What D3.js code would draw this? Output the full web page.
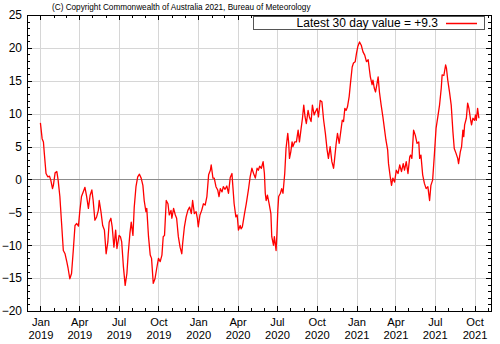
<!DOCTYPE html>
<html><head><meta charset="utf-8">
<script src="https://cdn.jsdelivr.net/npm/d3@7"></script>
<style>
body{margin:0;background:#fff}
svg{display:block}
text{font-family:"Liberation Sans",Arial,Helvetica,sans-serif;fill:#000}
</style>
</head><body>
<svg id="chart" width="500" height="344"></svg>
<script>
// ---- data ----
const dates = [
"2019-01-01","2019-01-05","2019-01-08","2019-01-10","2019-01-14","2019-01-18","2019-01-22","2019-01-25","2019-01-29","2019-01-31",
"2019-02-04","2019-02-08","2019-02-11","2019-02-15","2019-02-19","2019-02-23","2019-02-27","2019-03-03","2019-03-06","2019-03-10",
"2019-03-14","2019-03-18","2019-03-22","2019-03-26","2019-03-30","2019-04-02","2019-04-06","2019-04-10","2019-04-14","2019-04-18",
"2019-04-22","2019-04-26","2019-04-30","2019-05-03","2019-05-07","2019-05-11","2019-05-15","2019-05-17","2019-05-21","2019-05-25",
"2019-05-29","2019-06-02","2019-06-06","2019-06-09","2019-06-13","2019-06-16","2019-06-20","2019-06-24","2019-06-27","2019-07-02",
"2019-07-05","2019-07-08","2019-07-12","2019-07-16","2019-07-20","2019-07-23","2019-07-27","2019-07-30","2019-08-03","2019-08-06",
"2019-08-10","2019-08-14","2019-08-18","2019-08-22","2019-08-26","2019-08-29","2019-09-02","2019-09-04","2019-09-08","2019-09-12",
"2019-09-15","2019-09-19","2019-09-23","2019-09-27","2019-10-01","2019-10-05","2019-10-09","2019-10-12","2019-10-15","2019-10-19",
"2019-10-23","2019-10-26","2019-10-30","2019-11-01","2019-11-05","2019-11-09","2019-11-12","2019-11-16","2019-11-20","2019-11-24",
"2019-11-26","2019-11-30","2019-12-04","2019-12-08","2019-12-12","2019-12-16","2019-12-19","2019-12-23","2019-12-27","2019-12-30",
"2020-01-01","2020-01-05","2020-01-09","2020-01-13","2020-01-17","2020-01-21","2020-01-25","2020-01-29","2020-01-31","2020-02-04",
"2020-02-07","2020-02-11","2020-02-15","2020-02-18","2020-02-21","2020-02-25","2020-02-28","2020-03-03","2020-03-07","2020-03-11",
"2020-03-15","2020-03-19","2020-03-20","2020-03-24","2020-03-28","2020-03-31","2020-04-03","2020-04-07","2020-04-09","2020-04-12",
"2020-04-17","2020-04-21","2020-04-26","2020-04-30","2020-05-04","2020-05-08","2020-05-12","2020-05-16","2020-05-19","2020-05-22",
"2020-05-26","2020-05-30","2020-06-02","2020-06-04","2020-06-06","2020-06-09","2020-06-13","2020-06-17","2020-06-19","2020-06-23",
"2020-06-25","2020-06-29","2020-07-01","2020-07-03","2020-07-05","2020-07-09","2020-07-12","2020-07-15","2020-07-19","2020-07-22",
"2020-07-26","2020-07-28","2020-07-30","2020-08-02","2020-08-05","2020-08-07","2020-08-11","2020-08-15","2020-08-19","2020-08-22",
"2020-08-26","2020-08-29","2020-09-01","2020-09-04","2020-09-07","2020-09-11","2020-09-14","2020-09-18","2020-09-21","2020-09-25",
"2020-09-28","2020-10-02","2020-10-05","2020-10-09","2020-10-13","2020-10-17","2020-10-21","2020-10-25","2020-10-28","2020-11-01",
"2020-11-05","2020-11-09","2020-11-11","2020-11-15","2020-11-18","2020-11-22","2020-11-26","2020-11-29","2020-12-02","2020-12-05",
"2020-12-08","2020-12-11","2020-12-15","2020-12-18","2020-12-22","2020-12-25","2020-12-29",
"2021-01-01","2021-01-04","2021-01-08","2021-01-12","2021-01-16","2021-01-20","2021-01-24","2021-01-28","2021-01-31","2021-02-02",
"2021-02-06","2021-02-08","2021-02-11","2021-02-14","2021-02-17","2021-02-20","2021-02-23","2021-02-27","2021-03-03","2021-03-06",
"2021-03-10","2021-03-14","2021-03-16","2021-03-20","2021-03-23","2021-03-26","2021-03-30","2021-04-03","2021-04-07","2021-04-11",
"2021-04-15","2021-04-19","2021-04-22","2021-04-26","2021-04-30","2021-05-04","2021-05-06","2021-05-09","2021-05-13","2021-05-17",
"2021-05-21","2021-05-25","2021-05-27","2021-05-30","2021-06-03","2021-06-07","2021-06-11","2021-06-15","2021-06-19","2021-06-22",
"2021-06-26","2021-06-30","2021-07-04","2021-07-08","2021-07-12","2021-07-16","2021-07-18","2021-07-22","2021-07-26","2021-07-28",
"2021-07-31","2021-08-04","2021-08-08","2021-08-12","2021-08-15","2021-08-19","2021-08-23","2021-08-25","2021-08-29","2021-09-01",
"2021-09-04","2021-09-06","2021-09-08","2021-09-12","2021-09-15","2021-09-18","2021-09-22","2021-09-24","2021-09-27","2021-10-01",
"2021-10-03","2021-10-05","2021-10-08","2021-10-11"
];
const values = [
8.6,6.2,5.7,4.0,0.9,0.4,0.5,-0.1,-1.4,-0.9,
1.0,1.2,-0.1,-2.6,-6.7,-10.8,-11.3,-12.5,-13.5,-15.1,
-14.3,-10.8,-7.0,-6.7,-7.1,-4.9,-2.6,-1.9,-1.2,-2.6,
-4.4,-2.4,-1.6,-3.2,-6.2,-5.7,-4.7,-3.2,-4.9,-7.0,
-7.7,-11.3,-9.5,-6.5,-5.9,-7.2,-10.3,-7.7,-10.5,-8.5,
-8.7,-9.5,-13.3,-16.1,-14.3,-11.3,-8.2,-6.5,-8.5,-4.2,
-1.1,0.4,0.8,0.2,-0.9,-3.2,-4.9,-4.4,-8.7,-11.5,
-12.0,-15.8,-15.1,-13.5,-12.0,-12.5,-11.5,-8.7,-8.5,-3.2,
-3.7,-5.4,-4.7,-5.9,-4.4,-5.4,-5.9,-8.7,-10.3,-11.3,
-9.7,-7.2,-5.7,-4.7,-4.2,-5.2,-3.2,-5.2,-4.9,-5.9,
-7.2,-5.4,-4.7,-3.7,-3.9,-2.6,0.7,1.4,2.2,0.2,
0.2,-1.1,-1.6,-2.6,-1.4,-1.9,-1.1,-1.5,-1.0,-2.1,
0.3,0.9,-0.1,-3.7,-5.7,-5.4,-7.7,-7.0,-7.5,-7.2,
-5.2,-3.7,-1.6,0.4,1.7,0.9,0.2,1.7,1.4,2.0,
1.7,2.7,0.9,-2.1,-3.2,-2.4,-3.7,-5.2,-8.7,-10.0,
-8.7,-10.8,-8.2,-4.7,-2.6,-2.1,-1.4,-2.1,0.9,4.7,
7.0,5.7,3.2,4.2,5.7,5.0,5.7,5.7,7.5,5.7,
7.8,9.3,11.3,9.5,8.5,10.5,9.5,8.8,11.3,9.8,
10.3,10.8,9.5,12.0,11.8,9.0,7.0,4.5,3.2,5.0,
2.7,1.7,2.9,5.5,7.0,5.5,7.5,9.0,8.8,10.8,
10.5,11.0,12.6,14.6,17.1,17.7,17.9,
19.2,20.2,20.9,20.4,19.4,18.9,17.9,18.2,16.6,15.6,
14.4,15.1,13.9,13.3,14.4,15.6,13.3,11.3,9.5,8.0,
6.0,4.5,2.4,0.4,-0.9,0.2,-0.4,1.4,0.9,2.2,
1.2,2.4,1.4,2.7,0.9,3.4,3.7,3.2,7.5,6.7,
5.5,5.7,3.2,3.7,0.7,-0.6,-1.4,-1.1,-3.2,-0.9,
-0.1,3.7,7.8,9.5,11.3,13.9,15.9,15.8,17.4,16.9,
15.1,13.3,11.3,7.2,4.7,4.0,3.2,2.4,4.2,5.0,
7.5,6.5,8.3,9.3,11.6,10.8,9.0,8.3,9.3,9.0,
9.8,9.0,10.8,9.3
];
const yTicks = [-20,-15,-10,-5,0,5,10,15,20,25];
const xTickDates = ["2019-01-01","2019-04-01","2019-07-01","2019-10-01","2020-01-01","2020-04-01",
                    "2020-07-01","2020-10-01","2021-01-01","2021-04-01","2021-07-01","2021-10-01"];
const xDomain = ["2018-12-01","2021-11-08"];
const yDomain = [-20,25];
const legendLabel = "Latest 30 day value = +9.3";
const copyright = "(C) Copyright Commonwealth of Australia 2021, Bureau of Meteorology";

// ---- drawing ----
const L=27, R=491, T=15, B=311;
const parse = d3.timeParse("%Y-%m-%d");
const x = d3.scaleTime().domain(xDomain.map(parse)).range([L,R]);
const y = d3.scaleLinear().domain(yDomain).range([B,T]);
const svg = d3.select("#chart");
const series = dates.map((d,i)=>({date:parse(d), v:values[i]}));
const majorX = xTickDates.map(parse);
const minorX = d3.timeMonth.range(x.domain()[0], x.domain()[1]);
const minorY = d3.range(yDomain[0], yDomain[1]+1, 1);

// grid
const grid = svg.append("g").attr("shape-rendering","crispEdges");
grid.selectAll(".gx").data(majorX).join("line")
  .attr("x1",d=>Math.round(x(d))+0.5).attr("x2",d=>Math.round(x(d))+0.5)
  .attr("y1",T).attr("y2",B).attr("stroke","#d6d6d6");
grid.selectAll(".gy").data(yTicks.filter(v=>v!==yDomain[0]&&v!==yDomain[1]&&v!==0)).join("line")
  .attr("x1",L).attr("x2",R)
  .attr("y1",d=>Math.round(y(d))+0.5).attr("y2",d=>Math.round(y(d))+0.5).attr("stroke","#d6d6d6");
grid.append("line").attr("x1",L).attr("x2",R)
  .attr("y1",Math.round(y(0))+0.5).attr("y2",Math.round(y(0))+0.5).attr("stroke","#8c8c8c");

// minor & major ticks (inward, mirrored)
const ticks = svg.append("g").attr("stroke","#000").attr("shape-rendering","crispEdges");
const isMajorX = d => majorX.some(m=>+m===+d);
minorX.forEach(d=>{
  const px = Math.round(x(d))+0.5, len = isMajorX(d)?5:3;
  ticks.append("line").attr("x1",px).attr("x2",px).attr("y1",B).attr("y2",B-len);
  ticks.append("line").attr("x1",px).attr("x2",px).attr("y1",T).attr("y2",T+len);
});
minorY.forEach(v=>{
  const py = Math.round(y(v))+0.5, len = (v%5===0)?5:3;
  ticks.append("line").attr("x1",L).attr("x2",L+len).attr("y1",py).attr("y2",py);
  ticks.append("line").attr("x1",R).attr("x2",R-len).attr("y1",py).attr("y2",py);
});

// axis labels via d3 axes
const yAxis = d3.axisLeft(y).tickValues(yTicks).tickSize(0).tickPadding(5).tickFormat(d3.format("d"));
svg.append("g").attr("transform",`translate(${L},0)`).call(yAxis)
  .call(g=>{g.select(".domain").remove(); g.selectAll("text").attr("font-size",12).attr("font-family",null);});

const xAxis = d3.axisBottom(x).tickValues(majorX).tickSize(0).tickPadding(0).tickFormat(d3.timeFormat("%b"));
svg.append("g").attr("transform",`translate(0,${B})`).call(xAxis)
  .call(g=>{
    g.select(".domain").remove();
    g.selectAll(".tick text").attr("font-size",11.2).attr("font-family",null).attr("dy",null).attr("y",15.3);
    g.selectAll(".tick").append("text")
      .attr("fill","currentColor").attr("font-size",11.2).attr("y",28.2)
      .text(d=>d3.timeFormat("%Y")(d));
  });

// series line
svg.append("path").datum(series)
  .attr("fill","none").attr("stroke","#ff0000").attr("stroke-width",1.3)
  .attr("stroke-linejoin","round")
  .attr("d", d3.line().x(d=>x(d.date)).y(d=>y(d.v)));

// frame
svg.append("rect").attr("x",L+0.5).attr("y",T+0.5).attr("width",R-L).attr("height",B-T)
  .attr("fill","none").attr("stroke","#000").attr("shape-rendering","crispEdges");

// legend
const lg = svg.append("g");
lg.append("rect").attr("x",253.5).attr("y",16.5).attr("width",231).attr("height",13)
  .attr("fill","#fff").attr("stroke","#555").attr("shape-rendering","crispEdges");
lg.append("text").attr("x",438).attr("y",27.2).attr("text-anchor","end").attr("font-size",12).text(legendLabel);
lg.append("path").attr("d","M446,23.5H477").attr("fill","none")
  .style("stroke","#ff0000").style("stroke-width","1.5px");

// copyright
svg.append("text").attr("x",52).attr("y",10).attr("font-size",8.2).text(copyright);
</script>
</body></html>
